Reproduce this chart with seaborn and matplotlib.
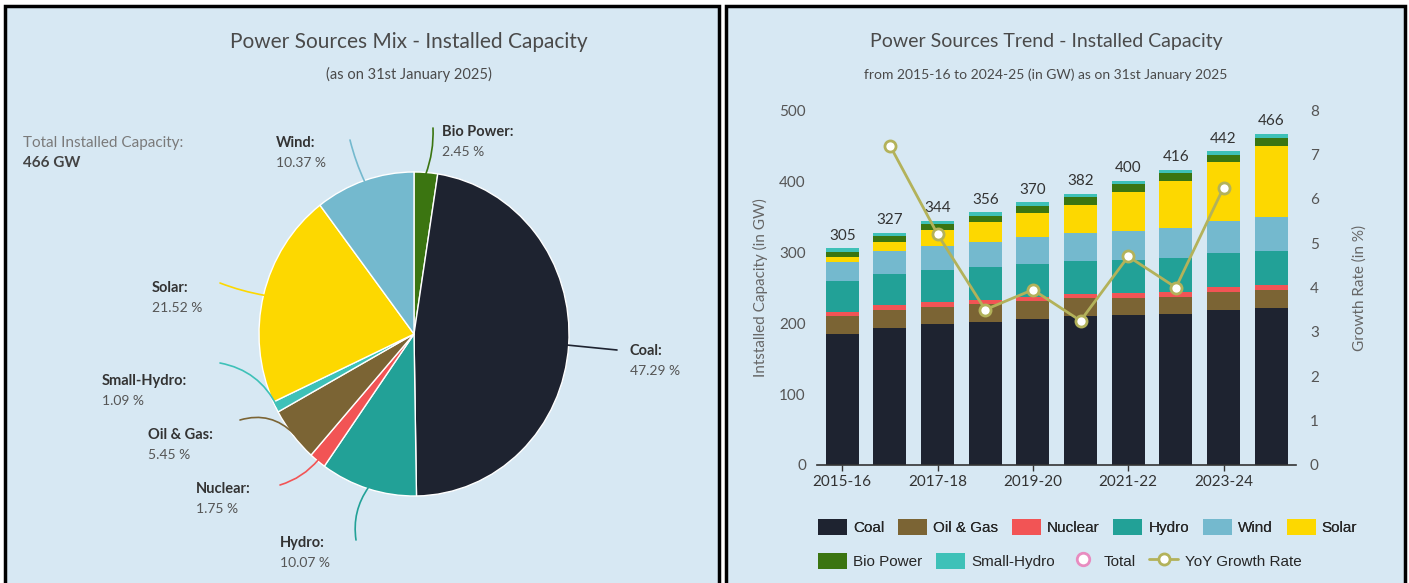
import numpy as np
import pandas as pd
import matplotlib
matplotlib.use('Agg')
import matplotlib.pyplot as plt
from matplotlib.patches import Rectangle, Patch
from matplotlib.lines import Line2D
import seaborn as sns

# ---- data ----
years = ['2015-16', '2016-17', '2017-18', '2018-19', '2019-20',
         '2020-21', '2021-22', '2022-23', '2023-24', '2024-25']
coal = [185.2, 193.1, 198.0, 201.0, 205.5, 209.6, 211.0, 212.2, 218.1, 220.5]
oil_gas = [25.0, 25.3, 24.9, 25.2, 25.0, 25.0, 24.9, 25.0, 25.0, 25.4]
nuclear = [5.8, 6.8, 6.8, 6.8, 6.8, 6.8, 6.8, 6.8, 8.2, 8.2]
hydro = [42.8, 44.5, 45.3, 45.4, 45.7, 46.2, 46.7, 46.9, 46.9, 46.9]
wind = [26.8, 32.3, 34.0, 35.6, 37.7, 39.2, 40.4, 42.6, 45.9, 48.3]
solar = [6.8, 12.3, 21.7, 28.2, 34.6, 40.1, 55.2, 66.8, 82.0, 100.3]
bio_power = [8.3, 8.3, 8.8, 9.2, 10.0, 10.3, 10.2, 10.8, 10.9, 11.4]
small_hydro = [4.3, 4.4, 4.5, 4.6, 4.7, 4.8, 4.8, 4.9, 5.0, 5.1]
growth_years = ['2016-17', '2017-18', '2018-19', '2019-20',
                '2020-21', '2021-22', '2022-23', '2023-24']
growth_rate = [7.2, 5.2, 3.5, 3.95, 3.25, 4.7, 4.0, 6.25]

pie_labels = ['Bio Power', 'Coal', 'Hydro', 'Nuclear', 'Oil & Gas',
              'Small-Hydro', 'Solar', 'Wind']
pie_share = [2.45, 47.29, 10.07, 1.75, 5.45, 1.09, 21.52, 10.37]
total_capacity = '466 GW'

colors = {
    'Coal': '#1e2330', 'Oil & Gas': '#7b6434', 'Nuclear': '#f25455',
    'Hydro': '#22a197', 'Wind': '#74b9ce', 'Solar': '#fdd800',
    'Bio Power': '#3b7511', 'Small-Hydro': '#3ec1b8',
}
bg = '#d7e8f3'
olive = '#b3b25a'
grey = '#4a4a4a'

sns.set_theme(style='white')
plt.rcParams['font.family'] = ['Lato', 'DejaVu Sans']

W, H = 1409, 583
fig = plt.figure(figsize=(W / 100, H / 100), dpi=100, facecolor='white')


def fx(x):
    return x / W


def fy(y):
    return 1 - y / H


# panel backgrounds
for x0, x1 in [(5, 719), (726, 1405)]:
    fig.patches.append(Rectangle((fx(x0), -0.02), fx(x1 - x0), fy(6) + 0.02,
                                 transform=fig.transFigure, facecolor=bg,
                                 edgecolor='black', lw=2.5, zorder=-10))

# ---- left: pie ----
fig.text(fx(409), fy(42), 'Power Sources Mix - Installed Capacity',
         ha='center', va='center', fontsize=15, color=grey)
fig.text(fx(409), fy(74), '(as on 31st January 2025)',
         ha='center', va='center', fontsize=10.5, color=grey)
fig.text(fx(23), fy(143), 'Total Installed Capacity:', ha='left', va='center',
         fontsize=11, color='#7a7a7a')
fig.text(fx(23), fy(163), total_capacity, ha='left', va='center',
         fontsize=11, color='#444444', fontweight='bold')

cx, cy, rx, ry = 414, 334, 155, 162
ax_pie = fig.add_axes([fx(cx - rx), fy(cy + ry), (2 * rx) / W, (2 * ry) / H])
wedges, _ = ax_pie.pie(pie_share, colors=[colors[l] for l in pie_labels],
                       startangle=90, counterclock=False, radius=1,
                       wedgeprops=dict(edgecolor='white', linewidth=1))
ax_pie.set_aspect('auto')
ax_pie.set_xlim(-1, 1)
ax_pie.set_ylim(-1, 1)
ax_pie.axis('off')

# label layout: text left/top (px), leader line end (px), curvature
label_layout = {
    'Bio Power': (442, 132, 433, 128, -0.1),
    'Coal': (630, 351, 617, 350, 0.0),
    'Hydro': (280, 543, 356, 540, -0.2),
    'Nuclear': (196, 489, 280, 485, 0.15),
    'Oil & Gas': (148, 435, 240, 420, -0.3),
    'Small-Hydro': (102, 381, 220, 363, -0.25),
    'Solar': (152, 288, 220, 283, 0.05),
    'Wind': (276, 143, 350, 140, 0.05),
}
for w, name, share in zip(wedges, pie_labels, pie_share):
    ang = np.deg2rad((w.theta1 + w.theta2) / 2)
    tx, ty, lx, ly, rad = label_layout[name]
    ax_pie.annotate('', xy=(np.cos(ang) * 0.99, np.sin(ang) * 0.99),
                    xytext=(fx(lx), fy(ly)), textcoords='figure fraction',
                    annotation_clip=False,
                    arrowprops=dict(arrowstyle='-', color=colors[name], lw=1.2,
                                    shrinkA=0, shrinkB=0,
                                    connectionstyle=f'arc3,rad={rad}'))
    fig.text(fx(tx), fy(ty), name + ':', ha='left', va='center', fontsize=10.5,
             fontweight='bold', color='#333333')
    fig.text(fx(tx), fy(ty + 20), f'{share:.2f} %', ha='left', va='center',
             fontsize=10, color='#555555')

# ---- right: stacked bars + growth line ----
fig.text(fx(1046), fy(42), 'Power Sources Trend - Installed Capacity',
         ha='center', va='center', fontsize=14, color=grey)
fig.text(fx(1046), fy(75), 'from 2015-16 to 2024-25 (in GW) as on 31st January 2025',
         ha='center', va='center', fontsize=10, color=grey)

df = pd.DataFrame({'year': years, 'Coal': coal, 'Oil & Gas': oil_gas,
                   'Nuclear': nuclear, 'Hydro': hydro, 'Wind': wind,
                   'Solar': solar, 'Bio Power': bio_power,
                   'Small-Hydro': small_hydro})
stack = ['Coal', 'Oil & Gas', 'Nuclear', 'Hydro', 'Wind', 'Solar',
         'Bio Power', 'Small-Hydro']
cum = df[stack].cumsum(axis=1)
cum['year'] = df['year']

ax = fig.add_axes([fx(817), fy(465), 479 / W, 355 / H])
ax.patch.set_alpha(0)
for col in reversed(stack):
    sns.barplot(data=cum, x='year', y=col, color=colors[col], saturation=1,
                width=0.69, linewidth=0, ax=ax)

totals = cum['Small-Hydro'].round().astype(int)
for i, t in enumerate(totals):
    ax.text(i, t + 8, str(t), ha='center', va='bottom', fontsize=11,
            color='#333333')

ax.set_xlim(-0.53, 9.52)
ax.set_ylim(0, 500)
ax.set_yticks(range(0, 501, 100))
ax.set_xticks(range(0, 10, 2))
ax.set_xticklabels(years[::2])
ax.set_xlabel('')
ax.set_ylabel('Intstalled Capacity (in GW)', fontsize=11, color='#666666',
              labelpad=8)
for s in ['top', 'right', 'left']:
    ax.spines[s].set_visible(False)
ax.spines['bottom'].set_color('#333333')
ax.spines['bottom'].set_linewidth(1.2)
ax.tick_params(axis='x', length=4, width=1, color='#333333', labelsize=11,
               labelcolor='#333333', pad=3, bottom=True)
ax.tick_params(axis='y', length=0, labelsize=11, labelcolor='#555555', pad=8)

ax2 = ax.twinx()
ax2.patch.set_alpha(0)
sns.lineplot(x=[years.index(y) for y in growth_years], y=growth_rate, ax=ax2,
             color=olive, lw=2, marker='o', markersize=8,
             markerfacecolor='white', markeredgecolor=olive, markeredgewidth=2)
ax2.set_xlim(-0.53, 9.52)
ax2.set_ylim(0, 8)
ax2.set_yticks(range(0, 9))
ax2.set_ylabel('Growth Rate (in %)', fontsize=11, color='#666666', labelpad=24)
for s in ['top', 'right', 'left', 'bottom']:
    ax2.spines[s].set_visible(False)
ax2.tick_params(axis='y', length=0, labelsize=11, labelcolor='#555555', pad=10)

# legend
row1 = [Patch(facecolor=colors[c], edgecolor='none') for c in stack[:6]]
leg1 = fig.legend(row1, stack[:6], loc='center left',
                  bbox_to_anchor=(fx(804), fy(527)), ncol=6, frameon=False,
                  handlelength=1.9, handleheight=1.3,
                  handletextpad=0.4, columnspacing=0.9,
                  prop={'family': ['Liberation Sans', 'DejaVu Sans'], 'size': 11})
row2 = [Patch(facecolor=colors['Bio Power'], edgecolor='none'),
        Patch(facecolor=colors['Small-Hydro'], edgecolor='none'),
        Line2D([], [], ls='none', marker='o', ms=9, mfc='white',
               mec='#e88cc0', mew=2),
        Line2D([], [], color=olive, lw=2, marker='o', ms=8, mfc='white',
               mec=olive, mew=2)]
leg2 = fig.legend(row2, ['Bio Power', 'Small-Hydro', 'Total', 'YoY Growth Rate'],
                  loc='center left', bbox_to_anchor=(fx(804), fy(561)), ncol=4,
                  frameon=False, handlelength=1.9, handleheight=1.3,
                  handletextpad=0.4, columnspacing=0.9,
                  prop={'family': ['Liberation Sans', 'DejaVu Sans'], 'size': 11})
fig.add_artist(leg1)

fig.savefig('out.png', dpi=100, facecolor='white')
